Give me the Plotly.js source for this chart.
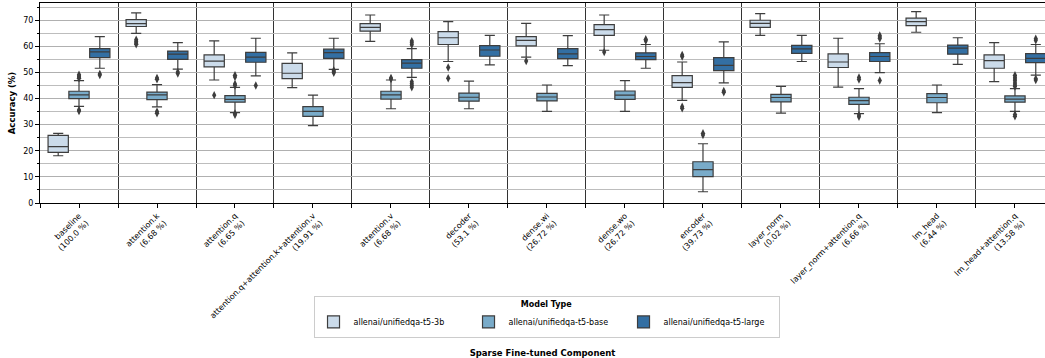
<!DOCTYPE html>
<html>
<head>
<meta charset="utf-8">
<script src="https://cdn.plot.ly/plotly-3.0.1.min.js"></script>
<style>html,body{margin:0;padding:0;background:#fff}#chart{width:1045px;height:358px}</style>
</head>
<body>
<div id="chart"></div>
<script>
const categories = ["baseline<br>(100.0 %)","attention.k<br>(6.68 %)","attention.q<br>(6.65 %)","attention.q+attention.k+attention.v<br>(19.91 %)","attention.v<br>(6.68 %)","decoder<br>(53.1 %)","dense.wi<br>(26.72 %)","dense.wo<br>(26.72 %)","encoder<br>(39.73 %)","layer_norm<br>(0.02 %)","layer_norm+attention.q<br>(6.66 %)","lm_head<br>(6.44 %)","lm_head+attention.q<br>(13.58 %)"];
const seriesNames = ["allenai/unifiedqa-t5-3b","allenai/unifiedqa-t5-base","allenai/unifiedqa-t5-large"];

// t5-3b
const lo3b  = [18.1,65.0,47.1,44.2,61.9,54.2,55.9,58.5,39.3,64.2,44.4,65.4,46.5];
const q13b  = [19.4,67.6,52.1,47.6,65.8,60.7,60.2,64.2,44.3,67.3,51.9,67.9,51.6];
const med3b = [21.6,68.7,54.3,49.7,67.3,63.3,62.3,66.4,46.1,68.8,54.0,69.5,54.5];
const q33b  = [25.9,70.2,56.7,53.5,68.7,65.6,63.7,68.3,48.8,70.0,57.1,70.8,56.7];
const hi3b  = [26.7,72.8,62.1,57.5,72.0,69.5,68.8,72.0,54.0,72.5,63.1,73.3,61.4];
const out3b = [[],[62.5,61.9,61.3,60.8],[41.3],[],[],[51.9,47.8],[54.4],[57.8],[56.7,56.1,36.9,36.3],[],[],[],[]];

// t5-base
const loBase  = [37.0,36.8,34.6,29.6,36.1,36.1,35.1,35.1,4.3,34.4,34.2,34.6,35.1];
const q1Base  = [40.0,39.6,38.6,33.2,39.8,39.0,39.1,39.7,10.1,38.7,37.8,38.4,38.6];
const medBase = [41.4,41.4,39.7,35.1,41.4,40.5,40.6,41.3,12.8,40.4,39.2,40.4,39.8];
const q3Base  = [42.8,42.5,41.1,36.9,42.8,42.1,42.0,42.9,15.8,41.6,40.5,41.9,41.0];
const hiBase  = [46.9,45.3,44.3,41.3,47.1,46.7,45.2,46.9,22.7,44.7,43.8,45.2,43.8];
const outBase = [[47.8,48.2,48.6,49.1,35.2,35.6],[47.9,47.4,35.0,34.4],[48.9,48.3,45.6,45.0,34.3,33.8],[],[47.9,47.5],[],[],[],[26.7,26.0],[],[48.1,47.3,33.7,33.0],[],[48.9,48.2,47.5,46.8,46.0,45.2,44.6,33.9,33.2]];

// t5-large
const loLarge  = [51.6,51.3,48.7,51.2,48.1,52.9,52.6,51.6,46.0,54.2,49.9,53.1,49.0];
const q1Large  = [55.7,55.0,53.9,55.4,51.6,56.2,55.3,54.9,50.7,57.3,54.2,57.0,53.8];
const medLarge = [57.9,57.0,55.9,57.6,53.6,58.6,57.1,56.1,52.7,59.0,56.1,59.3,55.4];
const q3Large  = [59.1,58.2,57.7,58.9,54.9,60.3,59.1,57.5,55.7,60.4,57.6,60.5,57.2];
const hiLarge  = [63.7,61.4,63.1,63.1,59.1,64.2,64.1,60.7,61.7,64.2,61.0,63.3,60.7];
const outLarge = [[49.0,49.4],[50.2,49.6],[45.0],[50.8,50.3,49.9],[62.0,61.4,60.6,46.4,45.7,45.0,44.3],[],[],[62.7,62.1],[42.9,42.4],[],[64.2,63.6,63.0,46.9],[],[62.9,62.3,47.6,47.1]];

const yTicks = [0,10,20,30,40,50,60,70];

const fills = ["#cbdbea","#79abc9","#336fa3"];
const lineCol = "#3d3d3d";
const offsets = [-0.2667, 0, 0.2667];
const stats = [
  [lo3b,q13b,med3b,q33b,hi3b,out3b],
  [loBase,q1Base,medBase,q3Base,hiBase,outBase],
  [loLarge,q1Large,medLarge,q3Large,hiLarge,outLarge]
];

const traces = [];
stats.forEach((s, k) => {
  const xs = categories.map((_, i) => i + offsets[k]);
  traces.push({
    type: "box", name: seriesNames[k], x: xs,
    lowerfence: s[0], q1: s[1], median: s[2], q3: s[3], upperfence: s[4],
    width: 0.26, whiskerwidth: 0.5, boxpoints: false,
    fillcolor: fills[k], line: {color: lineCol, width: 1.2},
    legendgroup: "g" + k, showlegend: true, hoverinfo: "skip"
  });
});
stats.forEach((s, k) => {
  const ox = [], oy = [];
  s[5].forEach((arr, i) => arr.forEach(v => { ox.push(i + offsets[k]); oy.push(v); }));
  traces.push({
    type: "scatter", mode: "markers", x: ox, y: oy, showlegend: false,
    legendgroup: "g" + k, hoverinfo: "skip",
    marker: {symbol: "diamond-tall", size: 6, color: lineCol, line: {width: 0}}
  });
});

const font = {family: "DejaVu Sans, sans-serif", size: 8, color: "#000"};
const layout = {
  width: 1045, height: 358,
  margin: {l: 40, r: 0, t: 3, b: 155},
  paper_bgcolor: "#fff", plot_bgcolor: "#fff",
  font: font,
  boxmode: "overlay",
  showlegend: true,
  xaxis: {
    range: [-0.5, 12.385],
    tickmode: "array", tickvals: categories.map((_, i) => i), ticktext: categories,
    tickangle: -45, ticks: "outside", ticklen: 4, tickcolor: "#000", tickwidth: 1,
    showgrid: false, zeroline: false,
    showline: true, linecolor: "#000", linewidth: 1, mirror: true,
    minor: {tick0: -0.5, dtick: 1, showgrid: true, gridcolor: "#333", gridwidth: 1, ticks: "outside", ticklen: 4, tickcolor: "#000"},
    tickfont: {family: "DejaVu Sans, sans-serif", size: 8, color: "#000"},
    title: {text: "<b>Sparse Fine-tuned Component</b>", font: {family: "DejaVu Sans, sans-serif", size: 8.5, color: "#000"}, standoff: 51}
  },
  yaxis: {
    range: [0, 76.6],
    tickmode: "array", tickvals: yTicks,
    ticks: "outside", ticklen: 4, tickcolor: "#000",
    showgrid: true, gridcolor: "#b0b0b0", gridwidth: 1, zeroline: false,
    showline: true, linecolor: "#000", linewidth: 1,
    minor: {dtick: 5, tick0: 0, showgrid: true, gridcolor: "#bdbdbd", gridwidth: 1, ticks: "outside", ticklen: 2, tickcolor: "#000"},
    tickfont: {family: "DejaVu Sans, sans-serif", size: 8, color: "#000"},
    title: {text: "<b>Accuracy (%)</b>", font: {family: "DejaVu Sans, sans-serif", size: 8.5, color: "#000"}, standoff: 6}
  },
  legend: {
    orientation: "h", x: 0.504, xanchor: "center", y: -0.465, yanchor: "top",
    bgcolor: "#fff", bordercolor: "#cccccc", borderwidth: 1,
    font: {family: "DejaVu Sans, sans-serif", size: 8, color: "#000"},
    title: {text: "<b>Model Type</b>", side: "top center", font: {family: "DejaVu Sans, sans-serif", size: 8, color: "#000"}},
    itemwidth: 30, tracegroupgap: 0, entrywidth: 110, entrywidthmode: "pixels"
  }
};

Plotly.newPlot("chart", traces, layout, {displayModeBar: false, staticPlot: true});
</script>
</body>
</html>
